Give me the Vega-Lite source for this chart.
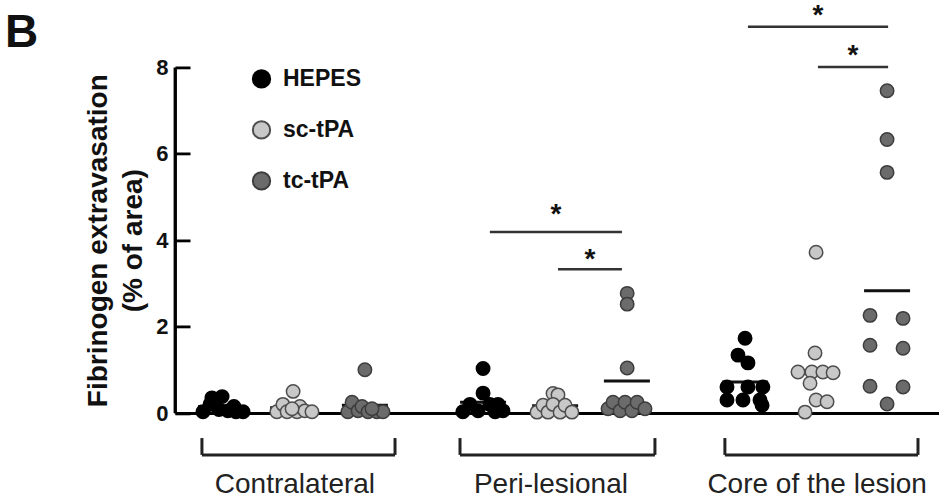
{
  "$schema": "https://vega.github.io/schema/vega-lite/v6.json",
  "width": 764,
  "height": 345.6,
  "autosize": {"type": "none"},
  "padding": {"left": 175, "top": 67.4, "right": 0, "bottom": 90},
  "background": "white",
  "config": {"view": {"stroke": null}, "font": "Liberation Sans"},
  "datasets": {
    "points": [
      {"region": "Contralateral", "treatment": "HEPES", "x": -0.355, "y": 0.03},
      {"region": "Contralateral", "treatment": "HEPES", "x": -0.328, "y": 0.2},
      {"region": "Contralateral", "treatment": "HEPES", "x": -0.321, "y": 0.35},
      {"region": "Contralateral", "treatment": "HEPES", "x": -0.282, "y": 0.38},
      {"region": "Contralateral", "treatment": "HEPES", "x": -0.294, "y": 0.08},
      {"region": "Contralateral", "treatment": "HEPES", "x": -0.26, "y": 0.05},
      {"region": "Contralateral", "treatment": "HEPES", "x": -0.237, "y": 0.15},
      {"region": "Contralateral", "treatment": "HEPES", "x": -0.229, "y": 0.03},
      {"region": "Contralateral", "treatment": "HEPES", "x": -0.202, "y": 0.03},
      {"region": "Contralateral", "treatment": "sc-tPA", "x": -0.073, "y": 0.03},
      {"region": "Contralateral", "treatment": "sc-tPA", "x": -0.05, "y": 0.2},
      {"region": "Contralateral", "treatment": "sc-tPA", "x": -0.034, "y": 0.03},
      {"region": "Contralateral", "treatment": "sc-tPA", "x": -0.011, "y": 0.5},
      {"region": "Contralateral", "treatment": "sc-tPA", "x": 0.004, "y": 0.03},
      {"region": "Contralateral", "treatment": "sc-tPA", "x": 0.015, "y": 0.15},
      {"region": "Contralateral", "treatment": "sc-tPA", "x": 0.034, "y": 0.05},
      {"region": "Contralateral", "treatment": "sc-tPA", "x": 0.061, "y": 0.03},
      {"region": "Contralateral", "treatment": "sc-tPA", "x": -0.015, "y": 0.1},
      {"region": "Contralateral", "treatment": "tc-tPA", "x": 0.198, "y": 0.03},
      {"region": "Contralateral", "treatment": "tc-tPA", "x": 0.214, "y": 0.25},
      {"region": "Contralateral", "treatment": "tc-tPA", "x": 0.237, "y": 0.05},
      {"region": "Contralateral", "treatment": "tc-tPA", "x": 0.263, "y": 1.0},
      {"region": "Contralateral", "treatment": "tc-tPA", "x": 0.252, "y": 0.15},
      {"region": "Contralateral", "treatment": "tc-tPA", "x": 0.275, "y": 0.03},
      {"region": "Contralateral", "treatment": "tc-tPA", "x": 0.309, "y": 0.03},
      {"region": "Contralateral", "treatment": "tc-tPA", "x": 0.332, "y": 0.03},
      {"region": "Contralateral", "treatment": "tc-tPA", "x": 0.29, "y": 0.1},
      {"region": "Peri-lesional", "treatment": "HEPES", "x": 0.637, "y": 0.03},
      {"region": "Peri-lesional", "treatment": "HEPES", "x": 0.664, "y": 0.2},
      {"region": "Peri-lesional", "treatment": "HEPES", "x": 0.695, "y": 0.05},
      {"region": "Peri-lesional", "treatment": "HEPES", "x": 0.714, "y": 1.03},
      {"region": "Peri-lesional", "treatment": "HEPES", "x": 0.714, "y": 0.46},
      {"region": "Peri-lesional", "treatment": "HEPES", "x": 0.74, "y": 0.2},
      {"region": "Peri-lesional", "treatment": "HEPES", "x": 0.76, "y": 0.03},
      {"region": "Peri-lesional", "treatment": "HEPES", "x": 0.79, "y": 0.05},
      {"region": "Peri-lesional", "treatment": "HEPES", "x": 0.771, "y": 0.2},
      {"region": "Peri-lesional", "treatment": "sc-tPA", "x": 0.92, "y": 0.02},
      {"region": "Peri-lesional", "treatment": "sc-tPA", "x": 0.943, "y": 0.18},
      {"region": "Peri-lesional", "treatment": "sc-tPA", "x": 0.962, "y": 0.02},
      {"region": "Peri-lesional", "treatment": "sc-tPA", "x": 0.981, "y": 0.45},
      {"region": "Peri-lesional", "treatment": "sc-tPA", "x": 1.0, "y": 0.42},
      {"region": "Peri-lesional", "treatment": "sc-tPA", "x": 0.981, "y": 0.2},
      {"region": "Peri-lesional", "treatment": "sc-tPA", "x": 1.008, "y": 0.02},
      {"region": "Peri-lesional", "treatment": "sc-tPA", "x": 1.027, "y": 0.18},
      {"region": "Peri-lesional", "treatment": "sc-tPA", "x": 1.053, "y": 0.02},
      {"region": "Peri-lesional", "treatment": "tc-tPA", "x": 1.191, "y": 0.1},
      {"region": "Peri-lesional", "treatment": "tc-tPA", "x": 1.21, "y": 0.25},
      {"region": "Peri-lesional", "treatment": "tc-tPA", "x": 1.237, "y": 0.05},
      {"region": "Peri-lesional", "treatment": "tc-tPA", "x": 1.256, "y": 0.25},
      {"region": "Peri-lesional", "treatment": "tc-tPA", "x": 1.282, "y": 0.05},
      {"region": "Peri-lesional", "treatment": "tc-tPA", "x": 1.302, "y": 0.25},
      {"region": "Peri-lesional", "treatment": "tc-tPA", "x": 1.332, "y": 0.1},
      {"region": "Peri-lesional", "treatment": "tc-tPA", "x": 1.264, "y": 2.77},
      {"region": "Peri-lesional", "treatment": "tc-tPA", "x": 1.264, "y": 2.52},
      {"region": "Peri-lesional", "treatment": "tc-tPA", "x": 1.264, "y": 1.04},
      {"region": "Core of the lesion", "treatment": "HEPES", "x": 1.714, "y": 1.73},
      {"region": "Core of the lesion", "treatment": "HEPES", "x": 1.687, "y": 1.34},
      {"region": "Core of the lesion", "treatment": "HEPES", "x": 1.725, "y": 1.16},
      {"region": "Core of the lesion", "treatment": "HEPES", "x": 1.645, "y": 0.6},
      {"region": "Core of the lesion", "treatment": "HEPES", "x": 1.725, "y": 0.6},
      {"region": "Core of the lesion", "treatment": "HEPES", "x": 1.782, "y": 0.6},
      {"region": "Core of the lesion", "treatment": "HEPES", "x": 1.645, "y": 0.3},
      {"region": "Core of the lesion", "treatment": "HEPES", "x": 1.706, "y": 0.3},
      {"region": "Core of the lesion", "treatment": "HEPES", "x": 1.771, "y": 0.3},
      {"region": "Core of the lesion", "treatment": "HEPES", "x": 1.779, "y": 0.18},
      {"region": "Core of the lesion", "treatment": "sc-tPA", "x": 1.985, "y": 3.72},
      {"region": "Core of the lesion", "treatment": "sc-tPA", "x": 1.981, "y": 1.39},
      {"region": "Core of the lesion", "treatment": "sc-tPA", "x": 1.916, "y": 0.95},
      {"region": "Core of the lesion", "treatment": "sc-tPA", "x": 1.969, "y": 0.95},
      {"region": "Core of the lesion", "treatment": "sc-tPA", "x": 2.011, "y": 0.95},
      {"region": "Core of the lesion", "treatment": "sc-tPA", "x": 2.05, "y": 0.93},
      {"region": "Core of the lesion", "treatment": "sc-tPA", "x": 1.962, "y": 0.69},
      {"region": "Core of the lesion", "treatment": "sc-tPA", "x": 1.985, "y": 0.3},
      {"region": "Core of the lesion", "treatment": "sc-tPA", "x": 2.027, "y": 0.26},
      {"region": "Core of the lesion", "treatment": "sc-tPA", "x": 1.943, "y": 0.02},
      {"region": "Core of the lesion", "treatment": "tc-tPA", "x": 2.256, "y": 7.46},
      {"region": "Core of the lesion", "treatment": "tc-tPA", "x": 2.256, "y": 6.33},
      {"region": "Core of the lesion", "treatment": "tc-tPA", "x": 2.256, "y": 5.57},
      {"region": "Core of the lesion", "treatment": "tc-tPA", "x": 2.191, "y": 2.26},
      {"region": "Core of the lesion", "treatment": "tc-tPA", "x": 2.317, "y": 2.19},
      {"region": "Core of the lesion", "treatment": "tc-tPA", "x": 2.191, "y": 1.57},
      {"region": "Core of the lesion", "treatment": "tc-tPA", "x": 2.317, "y": 1.5},
      {"region": "Core of the lesion", "treatment": "tc-tPA", "x": 2.191, "y": 0.62},
      {"region": "Core of the lesion", "treatment": "tc-tPA", "x": 2.317, "y": 0.6},
      {"region": "Core of the lesion", "treatment": "tc-tPA", "x": 2.256, "y": 0.21}
    ],
    "means": [
      {"region": "Contralateral", "treatment": "HEPES", "x": -0.286, "y": 0.15},
      {"region": "Contralateral", "treatment": "sc-tPA", "x": -0.011, "y": 0.12},
      {"region": "Contralateral", "treatment": "tc-tPA", "x": 0.263, "y": 0.18},
      {"region": "Peri-lesional", "treatment": "HEPES", "x": 0.714, "y": 0.25},
      {"region": "Peri-lesional", "treatment": "sc-tPA", "x": 0.989, "y": 0.17},
      {"region": "Peri-lesional", "treatment": "tc-tPA", "x": 1.263, "y": 0.74},
      {"region": "Core of the lesion", "treatment": "HEPES", "x": 1.714, "y": 0.72},
      {"region": "Core of the lesion", "treatment": "sc-tPA", "x": 1.985, "y": 0.97},
      {"region": "Core of the lesion", "treatment": "tc-tPA", "x": 2.256, "y": 2.83}
    ],
    "brackets": [
      {"region": "Contralateral", "x": -0.359, "x2": 0.378, "y": -0.97, "y2": -0.97},
      {"region": "Contralateral", "x": -0.359, "x2": -0.359, "y": -0.97, "y2": -0.58},
      {"region": "Contralateral", "x": 0.378, "x2": 0.378, "y": -0.97, "y2": -0.58},
      {"region": "Peri-lesional", "x": 0.626, "x2": 1.37, "y": -0.97, "y2": -0.97},
      {"region": "Peri-lesional", "x": 0.626, "x2": 0.626, "y": -0.97, "y2": -0.58},
      {"region": "Peri-lesional", "x": 1.37, "x2": 1.37, "y": -0.97, "y2": -0.58},
      {"region": "Core of the lesion", "x": 1.637, "x2": 2.374, "y": -0.97, "y2": -0.97},
      {"region": "Core of the lesion", "x": 1.637, "x2": 1.637, "y": -0.97, "y2": -0.58},
      {"region": "Core of the lesion", "x": 2.374, "x2": 2.374, "y": -0.97, "y2": -0.58}
    ],
    "axisline": [
      {"x": -0.4618, "x2": -0.4618, "y": 0, "y2": 8}
    ],
    "sigbars": [
      {"comparison": "Peri HEPES vs tc-tPA", "x": 0.74, "x2": 1.244, "y": 4.19, "y2": 4.19},
      {"comparison": "Peri sc-tPA vs tc-tPA", "x": 1.0, "x2": 1.244, "y": 3.33, "y2": 3.33},
      {"comparison": "Core HEPES vs tc-tPA", "x": 1.725, "x2": 2.26, "y": 8.94, "y2": 8.94},
      {"comparison": "Core sc-tPA vs tc-tPA", "x": 1.992, "x2": 2.26, "y": 8.01, "y2": 8.01}
    ],
    "stars": [
      {"comparison": "Peri HEPES vs tc-tPA", "x": 0.992, "y": 4.4, "label": "*"},
      {"comparison": "Peri sc-tPA vs tc-tPA", "x": 1.122, "y": 3.36, "label": "*"},
      {"comparison": "Core HEPES vs tc-tPA", "x": 1.992, "y": 9.0, "label": "*"},
      {"comparison": "Core sc-tPA vs tc-tPA", "x": 2.126, "y": 8.08, "label": "*"}
    ],
    "annotations": [
      {"x": -0.004, "y": -1.852, "label": "Contralateral", "kind": "region"},
      {"x": 0.973, "y": -1.852, "label": "Peri-lesional", "kind": "region"},
      {"x": 1.989, "y": -1.852, "label": "Core of the lesion", "kind": "region"}
    ],
    "panel": [
      {"x": -1.111, "y": 8.47, "label": "B"}
    ]
  },
  "encoding": {
    "x": {"field": "x", "type": "quantitative", "scale": {"domain": [-0.4618, 2.4542], "nice": false, "zero": false},
      "axis": {"domain": true, "ticks": false, "labels": false, "grid": false, "title": null, "domainColor": "#000", "domainWidth": 2.8}},
    "y": {"field": "y", "type": "quantitative", "scale": {"domain": [0, 8], "nice": false, "zero": true},
      "axis": {"values": [0, 2, 4, 6, 8], "format": "d", "domain": true, "domainColor": "#000", "domainWidth": 2.8, "ticks": false, "grid": true, "gridColor": "#000", "gridWidth": 2.8, "gridOpacity": 1, "gridDash": [15, 3000], "labelPadding": 7, "labelFont": "Liberation Sans", "labelFontSize": 22, "labelFontWeight": "bold", "labelColor": "#111", "title": ["Fibrinogen extravasation", "(% of area)"], "titleFont": "Liberation Sans", "titleFontSize": 28, "titleFontWeight": "bold", "titleColor": "#111", "titleLineHeight": 35, "titlePadding": 8}}
  },
  "layer": [
    {"data": {"name": "axisline"}, "mark": {"type": "rule", "color": "#000", "strokeWidth": 2.8}, "encoding": {"x2": {"field": "x2"}, "y2": {"field": "y2"}}},
    {"data": {"name": "means"}, "mark": {"type": "tick", "orient": "horizontal", "size": 46, "thickness": 3, "color": "#111", "opacity": 1}},
    {"data": {"name": "brackets"}, "mark": {"type": "rule", "color": "#222", "strokeWidth": 3}, "encoding": {"x2": {"field": "x2"}, "y2": {"field": "y2"}}},
    {"data": {"name": "sigbars"}, "mark": {"type": "rule", "color": "#333", "strokeWidth": 2.5}, "encoding": {"x2": {"field": "x2"}, "y2": {"field": "y2"}}},
    {"data": {"name": "stars"}, "mark": {"type": "text", "font": "Liberation Sans", "fontSize": 28, "fontWeight": "bold", "color": "#111", "align": "center", "baseline": "alphabetic"}, "encoding": {"text": {"field": "label"}}},
    {"data": {"name": "annotations"}, "mark": {"type": "text", "font": "Liberation Sans", "fontSize": 28, "color": "#222", "align": "center", "baseline": "alphabetic"}, "encoding": {"text": {"field": "label"}}},
    {"data": {"name": "panel"}, "mark": {"type": "text", "font": "Liberation Sans", "fontSize": 46, "fontWeight": "bold", "color": "#111", "align": "left", "baseline": "alphabetic"}, "encoding": {"text": {"field": "label"}}},
    {"data": {"name": "points"}, "mark": {"type": "circle", "size": 180, "strokeWidth": 1.5, "opacity": 1},
      "encoding": {
        "fill": {"field": "treatment", "type": "nominal", "scale": {"domain": ["HEPES", "sc-tPA", "tc-tPA"], "range": ["#000000", "#c8c8c8", "#6b6b6b"]},
          "legend": {"orient": "none", "legendX": 75, "legendY": 0, "direction": "vertical", "title": null, "symbolType": "circle", "symbolSize": 300, "symbolStrokeWidth": 2, "labelFont": "Liberation Sans", "labelFontSize": 23, "labelFontWeight": "bold", "labelColor": "#111", "rowPadding": 24, "labelOffset": 10, "padding": 0}},
        "stroke": {"field": "treatment", "type": "nominal", "scale": {"domain": ["HEPES", "sc-tPA", "tc-tPA"], "range": ["#000000", "#4d4d4d", "#3d3d3d"]},
          "legend": {"orient": "none", "legendX": 75, "legendY": 0, "direction": "vertical", "title": null, "symbolType": "circle", "symbolSize": 300, "symbolStrokeWidth": 2, "labelFont": "Liberation Sans", "labelFontSize": 23, "labelFontWeight": "bold", "labelColor": "#111", "rowPadding": 24, "labelOffset": 10, "padding": 0}}
      }}
  ]
}
